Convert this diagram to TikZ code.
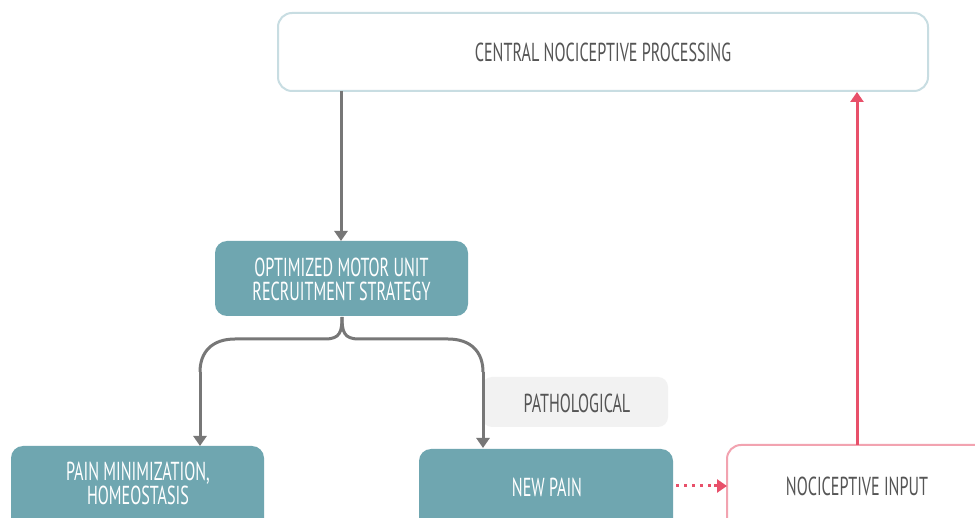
\documentclass[tikz,border=0pt]{standalone}
\usepackage{fontspec}
\setmainfont[FakeStretch=0.62]{PT Sans}
\usetikzlibrary{arrows.meta}
\definecolor{teal1}{HTML}{6FA6B0}
\definecolor{txtgray}{HTML}{555555}
\definecolor{arrgray}{HTML}{777777}
\definecolor{redc}{HTML}{E8506A}
\definecolor{bordb}{HTML}{C8DDE2}
\definecolor{bordr}{HTML}{F2A3B0}
\definecolor{pathbg}{HTML}{F2F2F2}
\tikzset{
  x=1pt,y=-1pt,
  whitebox/.style={fill=white,rounded corners=14pt,line width=2pt},
  lbl/.style={font=\fontsize{26}{24}\selectfont,align=center},
  garrow/.style={draw=arrgray,line width=3pt,-{Triangle[width=13pt,length=10pt]}},
  rarrow/.style={draw=redc,line width=3pt,-{Triangle[width=13pt,length=10pt]}},
}
\begin{document}
\begin{tikzpicture}
\useasboundingbox (0,0) rectangle (975,518);
\fill[white] (0,0) rectangle (975,518);
% boxes
\draw[whitebox,draw=bordb] (278,13) rectangle (928,91);
\node[lbl,text=txtgray] (central) at (603,52) {CENTRAL NOCICEPTIVE PROCESSING};
\coordinate (cbot) at (341,91);
\coordinate (ctop) at (857,92);

\fill[teal1,rounded corners=12pt] (215,241) rectangle (468,316);
\node[lbl,text=white] (opt) at (341.5,279) {OPTIMIZED MOTOR UNIT\\RECRUITMENT STRATEGY};
\coordinate (otop) at (341,241);
\coordinate (obot) at (342,317);

\fill[pathbg,rounded corners=10pt] (482,377) rectangle (668,427);
\node[lbl,text=txtgray] (path) at (577,403) {PATHOLOGICAL};

\fill[teal1,rounded corners=12pt] (11,446) rectangle (264,530);
\node[lbl,text=white] (painmin) at (138,483) {PAIN MINIMIZATION,\\HOMEOSTASIS};
\coordinate (pmtop) at (200,446);

\fill[teal1,rounded corners=12pt] (419,449) rectangle (673,530);
\node[lbl,text=white] (newpain) at (547,487) {NEW PAIN};
\coordinate (nptop) at (483,448);
\coordinate (npright) at (676,486);

\draw[whitebox,draw=bordr] (727,445) rectangle (990,540);
\node[lbl,text=txtgray] (noci) at (857,486) {NOCICEPTIVE INPUT};
\coordinate (nleft) at (727,486);
\coordinate (ntop) at (857,445);

% connectors
\draw[garrow] (cbot) -- (otop);
\draw[draw=arrgray,line width=3pt] (obot) .. controls (342,332) and (340,339) .. (325,339) -- (235,339) .. controls (212,339) and (200,352) .. (200,372);
\draw[garrow] (200,372) -- (pmtop);
\draw[draw=arrgray,line width=3pt] (obot) .. controls (342,332) and (344,339) .. (359,339) -- (448,339) .. controls (471,339) and (483,352) .. (483,372);
\draw[garrow] (483,372) -- (nptop);
\draw[draw=redc,line width=3pt,dash pattern=on 3pt off 5pt] (npright) -- (716,486);
\draw[rarrow] (714,486) -- (nleft);
\draw[rarrow] (ntop) -- (ctop);
\end{tikzpicture}
\end{document}
